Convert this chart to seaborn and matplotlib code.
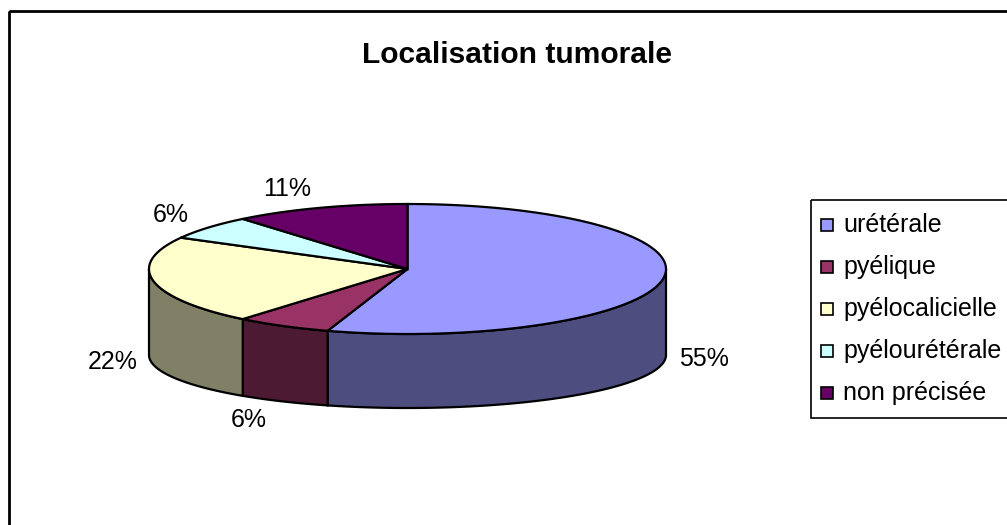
import numpy as np
import matplotlib
matplotlib.use("Agg")
import matplotlib.pyplot as plt
import seaborn as sns
from matplotlib.patches import Polygon, Rectangle

# ---------------- data ----------------
title = "Localisation tumorale"
categories = ["urétérale", "pyélique", "pyélocalicielle", "pyélourétérale", "non précisée"]
values = [55, 6, 22, 6, 11]
top_colors = ["#9999FF", "#993366", "#FFFFCC", "#CCFFFF", "#660066"]
side_colors = ["#4D4D80", "#4D1A33", "#808066", "#668080", "#330033"]

# ---------------- style ----------------
sns.set_theme(style="white")
plt.rcParams["font.family"] = ["Liberation Sans", "DejaVu Sans"]

W, H = 1007, 525
fig = plt.figure(figsize=(W / 100, H / 100), dpi=100)
ax = fig.add_axes([0, 0, 1, 1])
ax.set_xlim(0, W)
ax.set_ylim(H, 0)
ax.axis("off")

# chart area frame
ax.add_patch(Rectangle((9, 11), 1100, 600, fill=False, ec="black", lw=2, zorder=0))

# title
ax.text(517, 55, title, ha="center", va="center", fontsize=21.6, fontweight="bold", color="black")

# ---------------- 3D pie geometry ----------------
cx, cy, a, b = 407.5, 269, 258.5, 65     # top ellipse
cy2, b2 = 355, 53                       # bottom edge ellipse (perspective)
fr = np.array(values, dtype=float) / sum(values)
bounds = np.concatenate([[0], np.cumsum(fr)]) * 360.0


def top_pt(phi_deg):
    p = np.radians(phi_deg)
    return cx + a * np.sin(p), cy - b * np.cos(p)


def bot_pt(phi_deg):
    p = np.radians(phi_deg)
    return cx + a * np.sin(p), cy2 - b2 * np.cos(p)


# walls (front half only)
for i in range(len(values)):
    s, e = bounds[i], bounds[i + 1]
    lo, hi = max(s, 90), min(e, 270)
    if lo < hi:
        ph = np.linspace(lo, hi, 200)
        tx, ty = top_pt(ph)
        bx, by = bot_pt(ph[::-1])
        pts = np.column_stack([np.concatenate([tx, bx]), np.concatenate([ty, by])])
        ax.add_patch(Polygon(pts, closed=True, fc=side_colors[i], ec="black", lw=1.6, zorder=2))

# top faces
for i in range(len(values)):
    s, e = bounds[i], bounds[i + 1]
    ph = np.linspace(s, e, 300)
    tx, ty = top_pt(ph)
    pts = np.column_stack([np.concatenate([[cx], tx]), np.concatenate([[cy], ty])])
    ax.add_patch(Polygon(pts, closed=True, fc=top_colors[i], ec="black", lw=1.6, zorder=3))

# percentage labels
depth_front = 77
for i, v in enumerate(values):
    mid = np.radians((bounds[i] + bounds[i + 1]) / 2)
    lx = cx + 1.05 * a * np.sin(mid) + 28 * np.sign(np.sin(mid))
    ly = cy - 1.3 * b * np.cos(mid) + (depth_front if np.cos(mid) < 0 else 0)
    ax.text(lx, ly, f"{v}%", ha="center", va="center", fontsize=18, color="black", zorder=4)

# ---------------- legend ----------------
ax.add_patch(Rectangle((811, 200), 300, 218, fill=False, ec="black", lw=1.2, zorder=1))
y0, step = 225, 42
for i, cat in enumerate(categories):
    y = y0 + i * step
    ax.add_patch(Rectangle((821, y - 6), 12, 12, fc=top_colors[i], ec="black", lw=1.2, zorder=2))
    ax.text(843, y, cat, ha="left", va="center", fontsize=18, color="black")

fig.savefig("out.png", dpi=100)
